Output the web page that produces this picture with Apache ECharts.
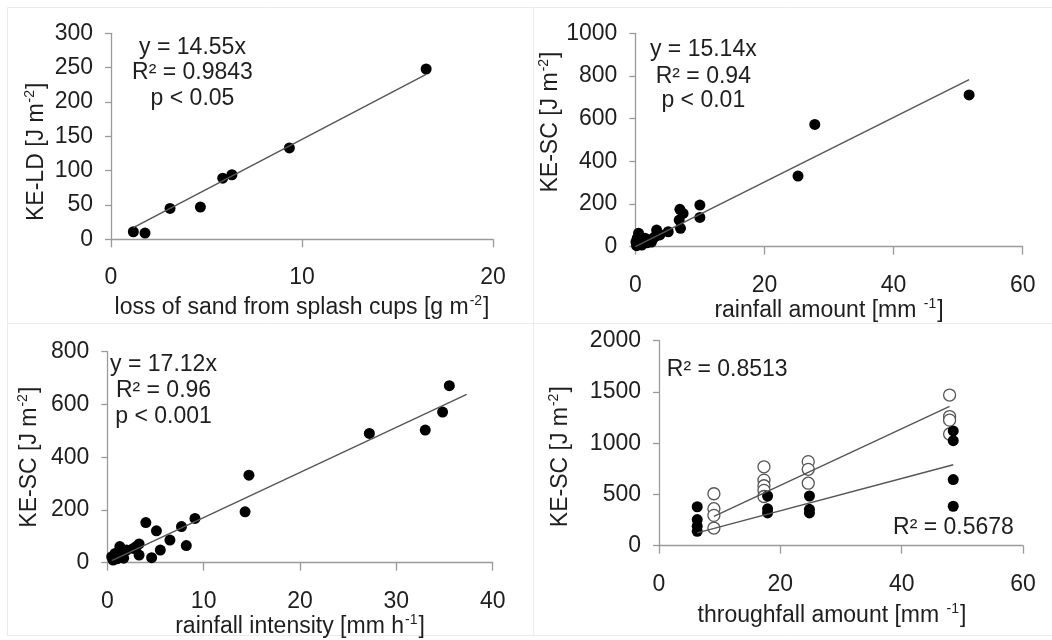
<!DOCTYPE html>
<html>
<head>
<meta charset="utf-8">
<script src="https://cdn.jsdelivr.net/npm/echarts@6/dist/echarts.min.js"></script>
<style>
html,body{margin:0;padding:0;background:#fff;}
#c{width:1052px;height:640px;}
</style>
</head>
<body>
<div id="c"></div>
<script>
// ---- Panel A: KE-LD vs loss of sand from splash cups ----
const aX = [1.17, 1.78, 3.09, 4.68, 5.85, 6.33, 9.34, 16.5];
const aY = [11, 9, 45, 47, 89, 94, 133, 248];
const aSlope = 14.55;
const aTrendX = [1.17, 16.5];

// ---- Panel B: KE-SC vs rainfall amount ----
const bX = [0.2, 0.1, 0.3, 0.5, 0.7, 1.0, 1.5, 1.8, 2.3, 2.5, 2.8, 3.05, 3.3, 3.5, 3.8, 5.1, 6.8, 6.9, 7.0, 7.4, 10.0, 10.0, 25.2, 27.8, 51.7];
const bY = [5, 22, 40, 63, 22, 8, 40, 18, 31, 22, 40, 47, 78, 65, 55, 70, 125, 175, 86, 156, 195, 137, 331, 573, 711];
const bSlope = 15.14;
const bTrendX = [0, 51.7];

// ---- Panel C: KE-SC vs rainfall intensity ----
const cX = [35.5, 34.8, 33.0, 27.2, 14.7, 14.3, 9.1, 7.7, 8.2, 6.5, 5.5, 5.1, 4.0, 4.6, 3.3, 3.0, 3.3, 2.7, 2.0, 1.3, 1.5, 1.7, 0.8, 0.6, 0.46, 1.0];
const cY = [671, 571, 503, 490, 332, 193, 168, 137, 65, 86, 48, 121, 152, 19, 71, 61, 29, 54, 48, 61, 29, 17, 35, 10, 23, 15];
const cSlope = 17.12;
const cTrendX = [0.46, 37.3];

// ---- Panel D: KE-SC vs throughfall amount ----
const dOpenX = [9.05, 9.05, 9.05, 9.05, 17.3, 17.3, 17.3, 17.3, 17.3, 24.6, 24.6, 24.6, 47.9, 47.9, 47.9, 47.9];
const dOpenY = [507, 361, 296, 172, 770, 640, 585, 540, 480, 820, 745, 610, 1470, 1260, 1225, 1090];
const dFillX = [6.3, 6.3, 6.3, 6.3, 17.9, 17.9, 17.9, 24.8, 24.8, 24.8, 48.5, 48.5, 48.5, 48.5];
const dFillY = [380, 255, 190, 140, 485, 360, 320, 485, 355, 320, 1120, 1025, 645, 385];
const dOpenTrend = [[9.05, 286], [47.9, 1359]];
const dFillTrend = [[6.3, 125], [48.5, 790]];

// ---- axis ticks / texts ----
const axA = {xmin: 0, xmax: 20, xint: 10, ymin: 0, ymax: 300, yint: 50};
const axB = {xmin: 0, xmax: 60, xint: 20, ymin: 0, ymax: 1000, yint: 200};
const axC = {xmin: 0, xmax: 40, xint: 10, ymin: 0, ymax: 800, yint: 200};
const axD = {xmin: 0, xmax: 60, xint: 20, ymin: 0, ymax: 2000, yint: 500};
const aText = ['y = 14.55x', 'R² = 0.9843', 'p < 0.05'];
const bText = ['y = 15.14x', 'R² = 0.94', 'p < 0.01'];
const cText = ['y = 17.12x', 'R² = 0.96', 'p < 0.001'];
const dText = ['R² = 0.8513', 'R² = 0.5678'];

const FONT = '"Liberation Sans", Arial, sans-serif';
const FS = 23;
const TXT = '#1e1e1e';
const AXC = '#9a9a9a';

const zip = (xs, ys) => xs.map((x, i) => [x, ys[i]]);
const trend = (xs, k) => xs.map(x => [x, k * x]);

const rich = {
  n: {fontSize: FS, fontFamily: FONT, color: TXT, lineHeight: 27},
  s: {fontSize: 14, fontFamily: FONT, color: TXT, lineHeight: 27, verticalAlign: 'top', padding: [0, 1, 10, 1]}
};

function xAxis(i, ax, name, gap, pad) {
  return {
    type: 'value', gridIndex: i, min: ax.xmin, max: ax.xmax, interval: ax.xint,
    name: name, nameLocation: 'middle', nameGap: gap,
    nameTextStyle: {rich: rich, padding: pad || 0},
    axisLine: {onZero: false, lineStyle: {color: AXC, width: 1.3}},
    axisTick: {show: true, inside: false, length: 8, lineStyle: {color: AXC, width: 1.3}},
    axisLabel: {margin: 27, fontSize: FS, fontFamily: FONT, color: TXT, formatter: v => String(v)},
    splitLine: {show: false}
  };
}
function yAxis(i, ax, name, gap, pad) {
  return {
    type: 'value', gridIndex: i, min: ax.ymin, max: ax.ymax, interval: ax.yint,
    name: name, nameLocation: 'middle', nameGap: gap,
    nameTextStyle: {rich: rich, padding: pad || 0},
    axisLine: {show: true, onZero: false, lineStyle: {color: AXC, width: 1.3}},
    axisTick: {show: true, inside: false, length: 6, lineStyle: {color: AXC, width: 1.3}},
    axisLabel: {margin: 18, fontSize: FS, fontFamily: FONT, color: TXT, formatter: v => String(v)},
    splitLine: {show: false}
  };
}
function dots(i, data, open) {
  return {
    type: 'scatter', xAxisIndex: i, yAxisIndex: i, data: data, symbolSize: open ? 12 : 11,
    itemStyle: open ? {color: '#fff', borderColor: '#555', borderWidth: 1.3, opacity: 1} : {color: '#000', opacity: 1},
    z: open ? 2 : 3, silent: true
  };
}
function tline(i, data) {
  return {
    type: 'line', xAxisIndex: i, yAxisIndex: i, data: data, showSymbol: false, symbol: 'none',
    lineStyle: {color: '#555', width: 1.4}, z: 5, silent: true, animation: false
  };
}
function label(x, y, t) {
  return {type: 'text', x: x, y: y, style: {text: t, font: FS + 'px ' + FONT, fill: TXT, align: 'center', verticalAlign: 'middle'}, z: 10};
}
function frame(x1, y1, x2, y2) {
  return {type: 'line', shape: {x1: x1, y1: y1, x2: x2, y2: y2}, style: {stroke: '#ebebeb', lineWidth: 1}, z: 0};
}

const chart = echarts.init(document.getElementById('c'), null, {renderer: 'canvas'});
chart.setOption({
  animation: false,
  backgroundColor: '#fff',
  grid: [
    {left: 111, top: 33.3, width: 382, height: 206},
    {left: 635.3, top: 33.3, width: 387.4, height: 213.4},
    {left: 107.3, top: 351.7, width: 385.4, height: 211},
    {left: 659, top: 340.7, width: 364, height: 205}
  ],
  xAxis: [
    xAxis(0, axA, '{n|loss of sand from splash cups [g m}{s|-2}{n|]}', 55),
    xAxis(1, axB, '{n|rainfall amount [mm }{s|-1}{n|]}', 48),
    xAxis(2, axC, '{n|rainfall intensity [mm h}{s|-1}{n|]}', 47),
    xAxis(3, axD, '{n|throughfall amount [mm }{s|-1}{n|]}', 56, [0, 18, 0, 0])
  ],
  yAxis: [
    yAxis(0, axA, '{n|KE-LD [J m}{s|-2}{n|]}', 61, [0, 31, 0, 0]),
    yAxis(1, axB, '{n|KE-SC [J m}{s|-2}{n|]}', 66, [0, 0, 0, 36]),
    yAxis(2, axC, '{n|KE-SC [J m}{s|-2}{n|]}', 64),
    yAxis(3, axD, '{n|KE-SC [J m}{s|-2}{n|]}', 85, [0, 27, 0, 0])
  ],
  series: [
    dots(0, zip(aX, aY)), tline(0, trend(aTrendX, aSlope)),
    dots(1, zip(bX, bY)), tline(1, trend(bTrendX, bSlope)),
    dots(2, zip(cX, cY)), tline(2, trend(cTrendX, cSlope)),
    dots(3, zip(dOpenX, dOpenY), true), dots(3, zip(dFillX, dFillY)),
    tline(3, dOpenTrend), tline(3, dFillTrend)
  ],
  graphic: [
    frame(7.5, 7.5, 1052, 7.5), frame(7.5, 7.5, 7.5, 636), frame(533.5, 7.5, 533.5, 636),
    frame(7.5, 323.5, 1052, 323.5), frame(7.5, 635.5, 1052, 635.5),
    label(192.5, 47.3, aText[0]), label(192.5, 72.7, aText[1]), label(192.5, 99, aText[2]),
    label(703.3, 50, bText[0]), label(703.3, 76.7, bText[1]), label(703.3, 100.7, bText[2]),
    label(163.5, 365, cText[0]), label(163.5, 390.7, cText[1]), label(163.5, 416.7, cText[2]),
    label(727.2, 370, dText[0]), label(953.5, 527.3, dText[1])
  ]
});
</script>
</body>
</html>
